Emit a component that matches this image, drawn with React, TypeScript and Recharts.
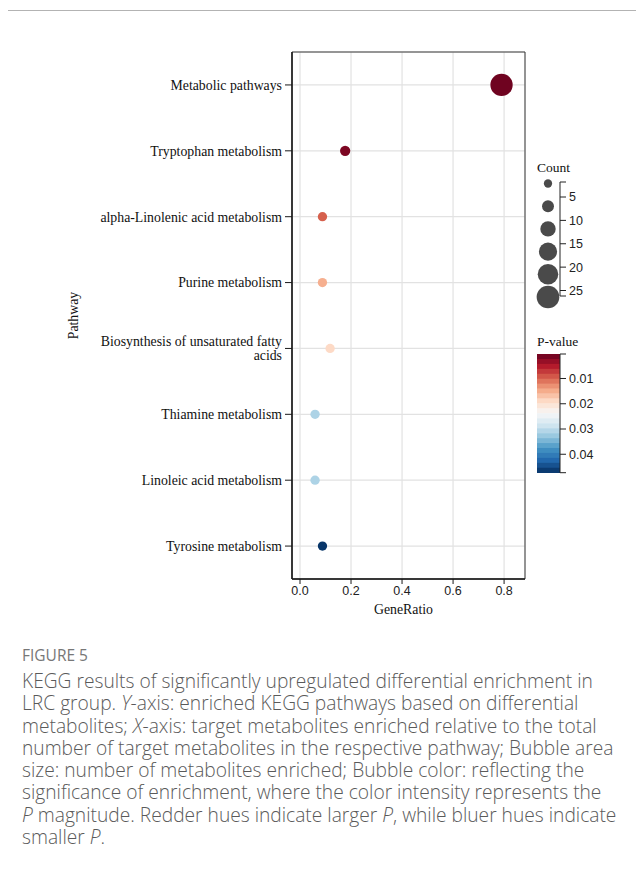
import React from 'react';
import {
  ScatterChart,
  Scatter,
  XAxis,
  YAxis,
  ZAxis,
  CartesianGrid,
  Cell,
  ReferenceArea,
} from 'recharts';

// ---------- data ----------
const pathways = [
  'Metabolic pathways',
  'Tryptophan metabolism',
  'alpha-Linolenic acid metabolism',
  'Purine metabolism',
  'Biosynthesis of unsaturated fatty acids',
  'Thiamine metabolism',
  'Linoleic acid metabolism',
  'Tyrosine metabolism',
];
const geneRatio = [0.79, 0.177, 0.088, 0.088, 0.118, 0.059, 0.059, 0.088];
const counts = [24, 3, 2, 2, 2, 2, 2, 2];
const pValues = [0.0008, 0.0017, 0.0097, 0.0153, 0.019, 0.0312, 0.0312, 0.0468];

const xTicks = [0, 0.2, 0.4, 0.6, 0.8];
const countLegend = [1, 5, 10, 15, 20, 25];
const countTicks = [5, 10, 15, 20, 25];
const pTicks = [0.01, 0.02, 0.03, 0.04];

const captionLines: React.ReactNode[] = [
  'KEGG results of significantly upregulated differential enrichment in',
  <>LRC group. <i>Y</i>-axis: enriched KEGG pathways based on differential</>,
  <>metabolites; <i>X</i>-axis: target metabolites enriched relative to the total</>,
  'number of target metabolites in the respective pathway; Bubble area',
  'size: number of metabolites enriched; Bubble color: reflecting the',
  'significance of enrichment, where the color intensity represents the',
  <><i>P</i> magnitude. Redder hues indicate larger <i>P</i>, while bluer hues indicate</>,
  <>smaller <i>P</i>.</>,
];

// ---------- scales / styles ----------
const RDBU = [
  '#67001f', '#b2182b', '#d6604d', '#f4a582', '#fddbc7', '#f7f7f7',
  '#d1e5f0', '#92c5de', '#4393c3', '#2166ac', '#053061',
];
const P_MIN = 0.0003;
const P_MAX = 0.0473;
const Z_DOMAIN: [number, number] = [0, 25];
const Z_RANGE: [number, number] = [39.3, 404.5];

const hexToRgb = (h: string) => [
  parseInt(h.slice(1, 3), 16),
  parseInt(h.slice(3, 5), 16),
  parseInt(h.slice(5, 7), 16),
];
const colorAt = (t: number) => {
  const tt = Math.max(0, Math.min(1, t)) * (RDBU.length - 1);
  const i = Math.min(RDBU.length - 2, Math.floor(tt));
  const f = tt - i;
  const a = hexToRgb(RDBU[i]);
  const b = hexToRgb(RDBU[i + 1]);
  const c = a.map((v, k) => Math.round(v + (b[k] - v) * f));
  return `rgb(${c[0]},${c[1]},${c[2]})`;
};
const pColor = (p: number) => colorAt((p - P_MIN) / (P_MAX - P_MIN));
const zRadius = (c: number) => {
  const area =
    Z_RANGE[0] + ((Z_RANGE[1] - Z_RANGE[0]) * (c - Z_DOMAIN[0])) / (Z_DOMAIN[1] - Z_DOMAIN[0]);
  return Math.sqrt(area / Math.PI);
};

const SERIF = '"Liberation Serif", "Times New Roman", serif';
const SANS = '"Liberation Sans", Arial, sans-serif';

const data = pathways.map((name, i) => ({
  name,
  x: geneRatio[i],
  y: i + 1,
  z: counts[i],
  p: pValues[i],
}));

const wrap = (s: string, max: number) => {
  const words = s.split(' ');
  const lines: string[] = [];
  let cur = '';
  words.forEach((w) => {
    const next = cur ? cur + ' ' + w : w;
    if (next.length > max && cur) {
      lines.push(cur);
      cur = w;
    } else cur = next;
  });
  if (cur) lines.push(cur);
  return lines;
};

const PathwayTick = (props: any) => {
  const { x, y, payload } = props;
  const label = pathways[Math.round(payload.value) - 1] ?? '';
  const lines = wrap(label, 34);
  const fs = 13.8;
  const lh = 14;
  return (
    <text x={x} y={y} textAnchor="end" fontFamily={SERIF} fontSize={fs} fill="#111">
      {lines.map((l, i) => (
        <tspan key={i} x={x} dy={i === 0 ? 0.35 * fs - ((lines.length - 1) * lh) / 2 : lh}>
          {l}
        </tspan>
      ))}
    </text>
  );
};

// legend geometry
const LEG_X = 537;
const COUNT_CIRCLE_CX = 548;
const COUNT_CIRCLE_Y0 = 183.5;
const COUNT_CIRCLE_STEP = 22.7;
const COUNT_BAR_X = 560;
const COUNT_BAR_TOP = 182;
const COUNT_BAR_BOTTOM = 296;
const countTickY = (c: number) => 197 + ((c - 5) * (290.5 - 197)) / 20;
const CB_TOP = 354;
const CB_BOTTOM = 472.7;
const CB_X = 537;
const CB_W = 23;
const CB_BANDS = 24;
const pY = (p: number) => CB_TOP + ((p - P_MIN) / (P_MAX - P_MIN)) * (CB_BOTTOM - CB_TOP);

const Legends = () => (
  <svg
    width={644}
    height={640}
    style={{ position: 'absolute', left: 0, top: 0, pointerEvents: 'none' }}
  >
    <text x={LEG_X} y={171.5} fontFamily={SERIF} fontSize={13.5} fill="#111">
      Count
    </text>
    {countLegend.map((c, i) => (
      <circle
        key={c}
        cx={COUNT_CIRCLE_CX}
        cy={COUNT_CIRCLE_Y0 + i * COUNT_CIRCLE_STEP}
        r={zRadius(c)}
        fill="#4a4a4a"
      />
    ))}
    <path
      d={`M${COUNT_BAR_X + 6},${COUNT_BAR_TOP}H${COUNT_BAR_X}V${COUNT_BAR_BOTTOM}H${COUNT_BAR_X + 6}`}
      fill="none"
      stroke="#222"
      strokeWidth={1}
    />
    {countTicks.map((c) => (
      <g key={c}>
        <line x1={COUNT_BAR_X} x2={COUNT_BAR_X + 6} y1={countTickY(c)} y2={countTickY(c)} stroke="#222" />
        <text x={COUNT_BAR_X + 9} y={countTickY(c)} dy="0.35em" fontFamily={SANS} fontSize={12.5} fill="#222">
          {c}
        </text>
      </g>
    ))}

    <text x={LEG_X} y={346} fontFamily={SERIF} fontSize={13.5} fill="#111">
      P-value
    </text>
    {Array.from({ length: CB_BANDS }, (_, i) => {
      const h = (CB_BOTTOM - CB_TOP) / CB_BANDS;
      return (
        <rect
          key={i}
          x={CB_X}
          y={CB_TOP + i * h}
          width={CB_W}
          height={h + 0.3}
          fill={colorAt((i + 0.5) / CB_BANDS)}
        />
      );
    })}
    <path
      d={`M${CB_X + CB_W + 6},${CB_TOP}H${CB_X + CB_W}V${CB_BOTTOM}H${CB_X + CB_W + 6}`}
      fill="none"
      stroke="#222"
      strokeWidth={1}
    />
    {pTicks.map((p) => (
      <g key={p}>
        <line x1={CB_X + CB_W} x2={CB_X + CB_W + 6} y1={pY(p)} y2={pY(p)} stroke="#222" />
        <text x={CB_X + CB_W + 9} y={pY(p)} dy="0.35em" fontFamily={SANS} fontSize={12.5} fill="#222">
          {p.toFixed(2)}
        </text>
      </g>
    ))}
  </svg>
);

const X_DOMAIN: [number, number] = [-0.0314, 0.882];
const Y_DOMAIN: [number, number] = [0.5, 8.5];

export default function App() {
  return (
    <div
      style={{
        position: 'relative',
        width: 644,
        height: 870,
        margin: -8,
        overflow: 'hidden',
        background: '#fff',
      }}
    >
      <div
        style={{
          position: 'absolute',
          left: 7,
          top: 10,
          width: 640,
          height: 870,
          borderTop: '1px solid #b3b3b3',
          borderLeft: '1px solid #b3b3b3',
        }}
      />
      <div style={{ position: 'absolute', left: 0, top: 0 }}>
        <ScatterChart width={644} height={640} margin={{ top: 52, right: 119, bottom: 0, left: 0 }}>
          <CartesianGrid stroke="#e2e2e2" strokeWidth={1.2} />
          <XAxis
            type="number"
            dataKey="x"
            domain={X_DOMAIN}
            allowDataOverflow
            ticks={xTicks}
            interval={0}
            tickFormatter={(v: number) => v.toFixed(1)}
            height={61}
            tickSize={5}
            tickMargin={2}
            axisLine={{ stroke: '#1a1a1a', strokeWidth: 1.5 }}
            tickLine={{ stroke: '#1a1a1a' }}
            tick={{ fontFamily: SANS, fontSize: 12.5, fill: '#222' }}
            label={{
              value: 'GeneRatio',
              position: 'insideBottom',
              offset: 26,
              dx: -5,
              style: { fontFamily: SERIF, fontSize: 13.8, fill: '#111' },
            }}
          />
          <YAxis
            type="number"
            dataKey="y"
            domain={Y_DOMAIN}
            allowDataOverflow
            reversed
            ticks={[1, 2, 3, 4, 5, 6, 7, 8]}
            interval={0}
            width={292}
            tickSize={7}
            tickMargin={3}
            axisLine={{ stroke: '#1a1a1a', strokeWidth: 1.5 }}
            tickLine={{ stroke: '#1a1a1a' }}
            tick={<PathwayTick />}
            label={{
              value: 'Pathway',
              angle: -90,
              position: 'insideLeft',
              offset: 73,
              style: { fontFamily: SERIF, fontSize: 13.8, fill: '#111', textAnchor: 'middle' },
            }}
          />
          <ZAxis type="number" dataKey="z" domain={Z_DOMAIN} range={Z_RANGE} />
          <ReferenceArea
            x1={X_DOMAIN[0]}
            x2={X_DOMAIN[1]}
            y1={Y_DOMAIN[0]}
            y2={Y_DOMAIN[1]}
            fill="none"
            fillOpacity={0}
            stroke="#3a3a3a"
            strokeWidth={1}
          />
          <Scatter data={data} isAnimationActive={false}>
            {data.map((d, i) => (
              <Cell key={i} fill={pColor(d.p)} />
            ))}
          </Scatter>
        </ScatterChart>
      </div>
      <Legends />
      <div
        style={{
          position: 'absolute',
          left: 22,
          top: 646,
          fontFamily: '"Open Sans", sans-serif',
          fontSize: 15.5,
          fontWeight: 500,
          lineHeight: '18px',
          color: '#777',
          whiteSpace: 'nowrap',
        }}
      >
        FIGURE 5
      </div>
      <div
        style={{
          position: 'absolute',
          left: 22,
          top: 670,
          fontFamily: '"Open Sans", sans-serif',
          fontSize: 19.2,
          fontWeight: 300,
          lineHeight: '22.3px',
          color: '#5a5a5a',
          whiteSpace: 'nowrap',
        }}
      >
        {captionLines.map((l, i) => (
          <div key={i}>{l}</div>
        ))}
      </div>
    </div>
  );
}
